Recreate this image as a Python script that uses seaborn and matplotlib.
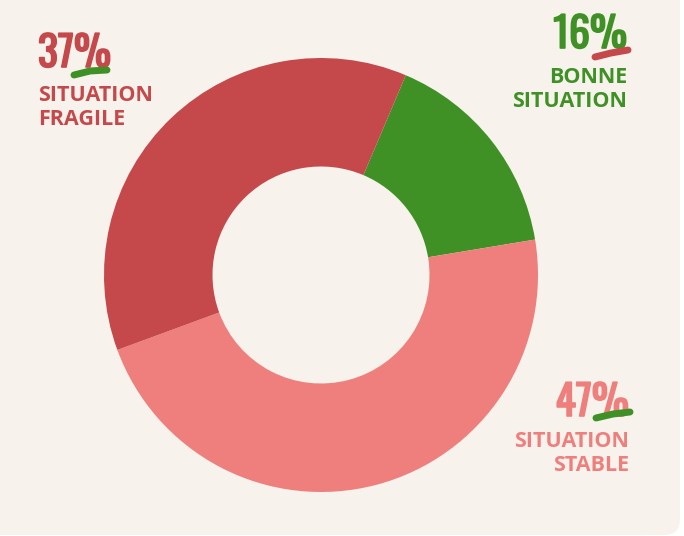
import seaborn as sns
from matplotlib import pyplot as plt
from matplotlib import patheffects as pe
from matplotlib.patches import FancyBboxPatch

# data
categories = ["BONNE\nSITUATION", "SITUATION\nSTABLE", "SITUATION\nFRAGILE"]
values = [16, 47, 37]
colors = ["#3F9126", "#EF7F7D", "#C5484B"]
mark_colors = ["#C5484B", "#3F9126", "#3F9126"]

sns.set_theme(style="white")
plt.rcParams["font.family"] = ["Open Sans", "DejaVu Sans"]

W, H = 684, 536
fig = plt.figure(figsize=(W / 100, H / 100), dpi=100, facecolor="white")
ax = fig.add_axes([0, 0, 1, 1])

# cream card with rounded bottom-right corner
card = FancyBboxPatch((-40, 1), 40 + 680, H + 40, boxstyle="round,pad=0,rounding_size=16",
                      facecolor="#F7F3EC", edgecolor="none", zorder=0)
ax.add_patch(card)

ax.pie(values, colors=colors, startangle=67, counterclock=False,
       radius=217, center=(321, H - 275),
       wedgeprops=dict(width=108.5, linewidth=0))
ax.set_xlim(0, W)
ax.set_ylim(0, H)
ax.set_aspect("equal")
ax.axis("off")

# label layout: (x, pct baseline, first label baseline, alignment, swoosh)
layout = [
    (627, 48, 83, "right", ((595, 57), (611, 53), (628, 50))),
    (629, 416, 447, "right", ((596, 418), (613, 414), (630, 412))),
    (38, 67, 101, "left", ((74, 75), (90, 71), (107, 70))),
]

for cat, v, col, mcol, (x, yp, yl, ha, sw) in zip(categories, values, colors, mark_colors, layout):
    ax.text(x, H - yp, f"{v}%", color=col, fontsize=30,
            family=["Oswald", "DejaVu Sans"], ha=ha, va="baseline", zorder=3,
            path_effects=[pe.withStroke(linewidth=1.2, foreground=col)])
    xs = [p[0] for p in sw]
    ys = [H - p[1] for p in sw]
    ax.plot(xs, ys, color=mcol, lw=5, solid_capstyle="round", zorder=4)
    for i, line in enumerate(cat.split("\n")):
        ax.text(x, H - yl - 24 * i, line, color=col, fontsize=15.5, fontweight="bold",
                ha=ha, va="baseline", zorder=3)

fig.savefig("out.png", dpi=100, facecolor="white")
